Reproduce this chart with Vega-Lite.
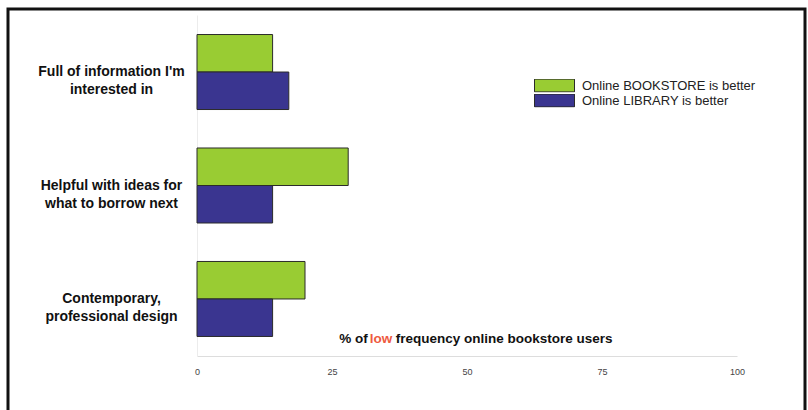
{
  "$schema": "https://vega.github.io/schema/vega-lite/v6.json",
  "width": 797,
  "height": 403,
  "padding": {"left": 8, "top": 9, "right": 3, "bottom": 0},
  "autosize": {"type": "none"},
  "background": "white",
  "config": {
    "view": {"stroke": "#111111", "strokeWidth": 3},
    "font": "Liberation Sans"
  },
  "data": {
    "values": [
      {"q": "Full of information I'm\ninterested in", "s": "Online BOOKSTORE is better", "pct": 14},
      {"q": "Full of information I'm\ninterested in", "s": "Online LIBRARY is better", "pct": 17},
      {"q": "Helpful with ideas for\nwhat to borrow next", "s": "Online BOOKSTORE is better", "pct": 28},
      {"q": "Helpful with ideas for\nwhat to borrow next", "s": "Online LIBRARY is better", "pct": 14},
      {"q": "Contemporary,\nprofessional design", "s": "Online BOOKSTORE is better", "pct": 20},
      {"q": "Contemporary,\nprofessional design", "s": "Online LIBRARY is better", "pct": 14}
    ]
  },
  "layer": [
    {
      "mark": {"type": "bar", "stroke": "#2b2b2b", "strokeWidth": 1},
      "encoding": {
        "y": {
          "field": "q", "type": "nominal", "sort": null,
          "scale": {"range": [6, 347], "paddingInner": 0.339, "paddingOuter": 0.172},
          "axis": {
            "orient": "left", "offset": -189, "ticks": false, "tickSize": 0,
            "domainColor": "#ececec", "labelAlign": "center", "labelPadding": 86,
            "labelFontSize": 14, "labelFontWeight": "bold", "labelColor": "#111111",
            "labelLineHeight": 18, "labelLimit": 0,
            "labelExpr": "split(datum.label, '\\n')", "title": null
          }
        },
        "x": {
          "field": "pct", "type": "quantitative",
          "scale": {"domain": [0, 100], "range": [189, 729]},
          "axis": {
            "orient": "bottom", "offset": -56, "values": [0, 25, 50, 75, 100],
            "ticks": false, "tickSize": 0, "grid": false, "domainColor": "#dddddd",
            "labelFontSize": 9, "labelColor": "#444444", "labelPadding": 11,
            "labelFlush": false, "title": null
          }
        },
        "yOffset": {"field": "s", "type": "nominal", "sort": null, "scale": {"paddingInner": 0, "paddingOuter": 0}},
        "color": {
          "field": "s", "type": "nominal", "sort": null,
          "scale": {"domain": ["Online BOOKSTORE is better", "Online LIBRARY is better"], "range": ["#99cc33", "#3a3590"]},
          "legend": {
            "title": null, "orient": "none", "legendX": 526, "legendY": 70,
            "padding": 0, "symbolType": "M-1,-0.32H1V0.32H-1Z", "symbolSize": 1600,
            "symbolStrokeColor": "#2b2b2b", "symbolStrokeWidth": 1, "symbolOpacity": 1,
            "clipHeight": 13, "rowPadding": 1, "labelOffset": 7,
            "labelFontSize": 13, "labelColor": "#222222", "labelLimit": 0
          }
        }
      }
    },
    {
      "data": {"values": [{"t": "% of"}]},
      "mark": {"type": "text", "align": "right", "baseline": "middle", "dy": 40, "dx": -2, "fontWeight": "bold", "fontSize": 13.5, "color": "#111111"},
      "encoding": {
        "x": {"datum": 32, "type": "quantitative"},
        "y": {"datum": "Contemporary,\nprofessional design", "type": "nominal"},
        "text": {"field": "t"}
      }
    },
    {
      "data": {"values": [{"t": "low"}]},
      "mark": {"type": "text", "align": "left", "baseline": "middle", "dy": 40, "dx": 0, "fontWeight": "bold", "fontSize": 13.5, "color": "#ee5a40"},
      "encoding": {
        "x": {"datum": 32, "type": "quantitative"},
        "y": {"datum": "Contemporary,\nprofessional design", "type": "nominal"},
        "text": {"field": "t"}
      }
    },
    {
      "data": {"values": [{"t": "frequency online bookstore users"}]},
      "mark": {"type": "text", "align": "left", "baseline": "middle", "dy": 40, "dx": 26, "fontWeight": "bold", "fontSize": 13.5, "color": "#111111"},
      "encoding": {
        "x": {"datum": 32, "type": "quantitative"},
        "y": {"datum": "Contemporary,\nprofessional design", "type": "nominal"},
        "text": {"field": "t"}
      }
    }
  ]
}
